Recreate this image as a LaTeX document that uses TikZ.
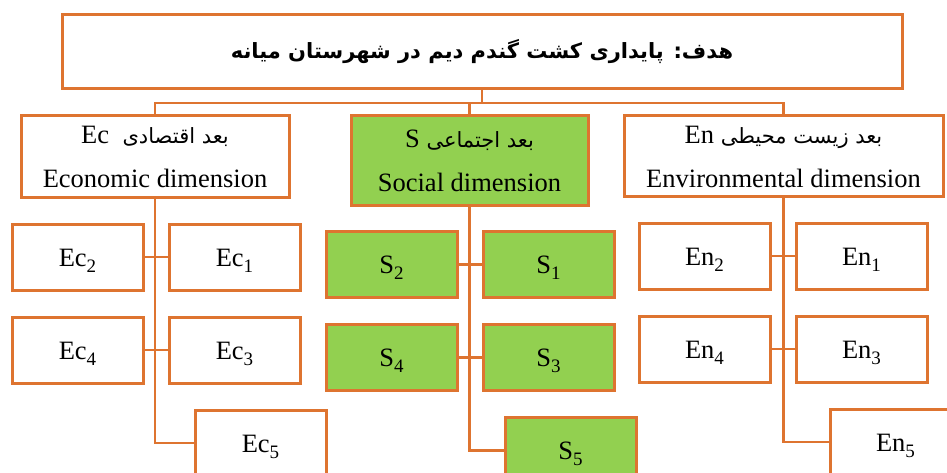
\documentclass[tikz,border=0pt]{standalone}
\usepackage{fontspec}
\setmainfont{Liberation Serif}
\newfontfamily\farsi[Script=Arabic]{DejaVu Sans}
\TeXXeTstate=1
\usetikzlibrary{positioning}

\definecolor{edgeorange}{RGB}{222,116,48}
\definecolor{socgreen}{RGB}{146,208,80}
\newcommand{\idx}[1]{\raisebox{-6pt}{\fontsize{19}{20}\selectfont #1}}

\begin{document}
\begin{tikzpicture}[
  x=1pt, y=-1pt,
  font=\fontsize{26.5}{30}\selectfont,
  node distance=27pt and 26pt,
  goal/.style  ={rectangle, draw=edgeorange, line width=3pt, outer sep=0pt,
                 minimum width=840pt, minimum height=74pt},
  dim/.style   ={rectangle, draw=edgeorange, line width=3pt, outer sep=0pt,
                 align=center, minimum height=82pt, fill=white,
                 font=\fontsize{26.5}{44}\selectfont},
  ind/.style   ={rectangle, draw=edgeorange, line width=3pt, outer sep=0pt,
                 minimum width=131pt, minimum height=66pt, fill=white,
                 text height=18pt, text depth=0pt},
  social/.style={fill=socgreen},
  link/.style  ={draw=edgeorange, line width=2.2pt}
]
\path[use as bounding box, clip] (0,0) rectangle (947,473);

% ---------- Goal ----------
\node[goal] (goal) at (482,52)
  {\farsi\bfseries\fontsize{21}{26}\selectfont\beginR هدف: پایداری کشت گندم دیم در شهرستان میانه\endR};
\coordinate[below=14pt of goal.south] (bus);

% ---------- Dimensions ----------
\node[dim, minimum width=268pt] (ec) at (155,157)
  {{\farsi\fontsize{21}{44}\selectfont\beginR بعد اقتصادی\ \ \beginL\rmfamily\fontsize{26.5}{44}\selectfont Ec\endL\endR}\\
   Economic dimension};
\node[dim, social, minimum width=237pt, minimum height=89pt] (soc) at (469.5,160.5)
  {{\farsi\fontsize{21}{44}\selectfont\beginR بعد اجتماعی \beginL\rmfamily\fontsize{26.5}{44}\selectfont S\endL\endR}\\
   Social dimension};
\node[dim, minimum width=319pt, minimum height=81pt] (en) at (783.5,156.5)
  {{\farsi\fontsize{21}{44}\selectfont\beginR بعد زیست محیطی \beginL\rmfamily\fontsize{26.5}{44}\selectfont En\endL\endR}\\
   Environmental dimension};

% ---------- Economic indicators ----------
\node[ind] (ec2) at (77.5,257) {Ec\idx{2}};
\node[ind, right=of ec2]            (ec1) {Ec\idx{1}};
\node[ind, below=of ec2]            (ec4) {Ec\idx{4}};
\node[ind, right=of ec4]            (ec3) {Ec\idx{3}};
\node[ind, below=of ec3, xshift=26pt] (ec5) {Ec\idx{5}};

% ---------- Social indicators ----------
\node[ind, social] (s2) at (391.5,264.5) {S\idx{2}};
\node[ind, social, right=of s2]            (s1) {S\idx{1}};
\node[ind, social, below=of s2]            (s4) {S\idx{4}};
\node[ind, social, right=of s4]            (s3) {S\idx{3}};
\node[ind, social, below=of s3, xshift=22pt] (s5) {S\idx{5}};

% ---------- Environmental indicators ----------
\node[ind] (en2) at (704.5,256) {En\idx{2}};
\node[ind, right=of en2]            (en1) {En\idx{1}};
\node[ind, below=of en2]            (en4) {En\idx{4}};
\node[ind, right=of en4]            (en3) {En\idx{3}};
\node[ind, below=of en3, xshift=34pt] (en5) {En\idx{5}};

% ---------- Connectors ----------
\draw[link] (goal.south) -- (bus);
\draw[link] (bus) -| (ec.north);
\draw[link] (bus) -| (soc.north);
\draw[link] (bus) -| (en.north);

\draw[link] (ec.south)  |- (ec5.west);
\draw[link] (ec2.east)  -- (ec1.west);
\draw[link] (ec4.east)  -- (ec3.west);

\draw[link] (soc.south) |- (s5.west);
\draw[link] (s2.east)   -- (s1.west);
\draw[link] (s4.east)   -- (s3.west);

\draw[link] (en.south)  |- (en5.west);
\draw[link] (en2.east)  -- (en1.west);
\draw[link] (en4.east)  -- (en3.west);

\end{tikzpicture}
\end{document}
